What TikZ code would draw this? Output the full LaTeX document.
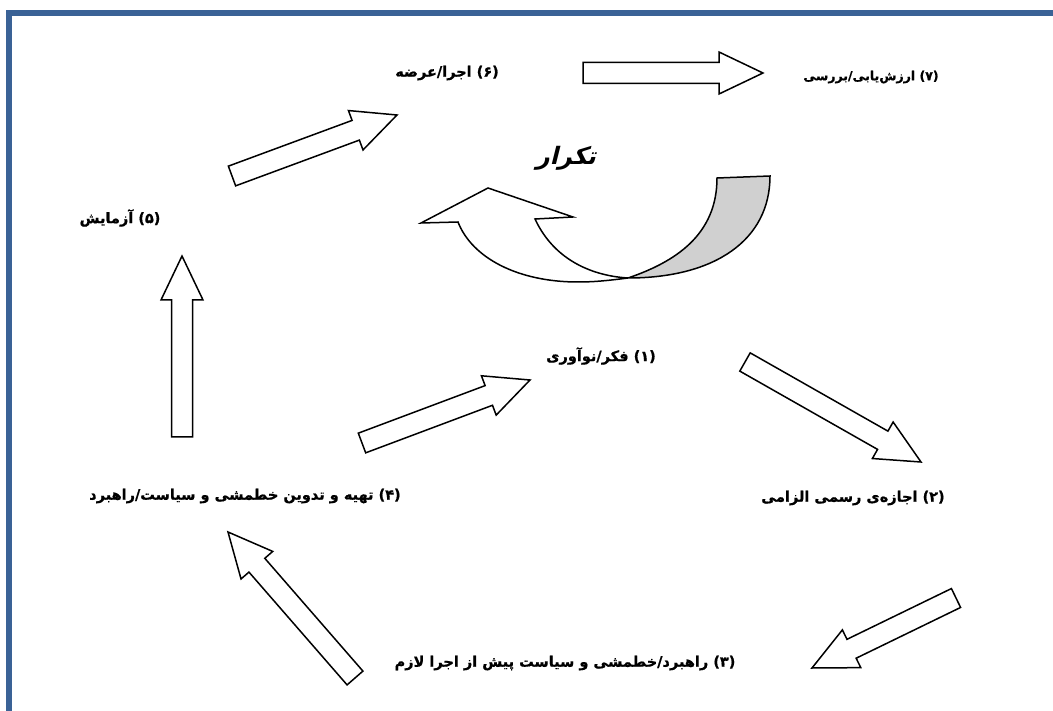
\documentclass[tikz,border=0pt]{standalone}
\usepackage{fontspec}
\usetikzlibrary{calc}
\TeXXeTstate=1
\newfontfamily\fafont[Script=Arabic,BoldFeatures={FakeBold=0.8}]{DejaVu Sans}
\newfontfamily\tkfont[Script=Arabic,UprightFont=* Bold,UprightFeatures={FakeSlant=0.25}]{DejaVu Sans}
\definecolor{frameblue}{RGB}{58,98,150}
\definecolor{backgray}{RGB}{208,208,208}

% outline block arrow from a tail coordinate to a tip coordinate
\newcommand{\blockarrow}[2]{%
  \coordinate (ba) at ($(#2)!44pt!(#1)$);
  \draw[arrowline] ($(#1)!10.5pt!90:(#2)$) -- ($(ba)!10.5pt!90:(#2)$)
    -- ($(ba)!21pt!90:(#2)$) -- (#2) -- ($(ba)!21pt!-90:(#2)$)
    -- ($(ba)!10.5pt!-90:(#2)$) -- ($(#1)!10.5pt!-90:(#2)$) -- cycle;
}

\tikzset{
  step label/.style={font=\fafont\bfseries\fontsize{14.5}{17}\selectfont},
  arrowline/.style={draw=black, fill=white, line width=1.5pt, line join=miter}
}

\begin{document}
\begin{tikzpicture}[x=1pt, y=-1pt]
  \useasboundingbox (0,0) rectangle (1053,711);
  % frame
  \draw[frameblue, line width=6pt] (9,711) -- (9,13) -- (1053,13);

  % steps
  \node[step label] (l1) at (601,356) {\beginR(۱) فکر/نوآوری\endR};
  \node[step label] (l2) at (853,498) {\beginR(۲) اجازه‌ی رسمی الزامی\endR};
  \node[step label] (l3) at (565,663) {\beginR(۳) راهبرد/خطمشی و سیاست پیش از اجرا لازم\endR};
  \node[step label] (l4) at (245,496) {\beginR(۴) تهیه و تدوین خطمشی و سیاست/راهبرد\endR};
  \node[step label] (l5) at (120,218) {\beginR(۵) آزمایش\endR};
  \node[step label] (l6) at (447,73) {\beginR(۶) اجرا/عرضه\endR};
  \node[step label, font=\fafont\bfseries\fontsize{12.5}{15}\selectfont] (l7) at (871,77) {\beginR(۷) ارزش‌یابی/بررسی\endR};
  \node[font=\tkfont\fontsize{24}{28}\selectfont] (tk) at (566,158) {\beginR تکرار\endR};

  % arrow ends
  \coordinate (t12) at (745,362); \coordinate (h12) at (921,462);
  \coordinate (t23) at (956,598); \coordinate (h23) at (812,668);
  \coordinate (t34) at (355,678); \coordinate (h34) at (228,532);
  \coordinate (t41) at (362,443); \coordinate (h41) at (530,380);
  \coordinate (t45) at (182,437); \coordinate (h45) at (182,256);
  \coordinate (t56) at (232,176); \coordinate (h56) at (397,115);
  \coordinate (t67) at (583,73);  \coordinate (h67) at (763,73);

  \blockarrow{t12}{h12}
  \blockarrow{t23}{h23}
  \blockarrow{t34}{h34}
  \blockarrow{t41}{h41}
  \blockarrow{t45}{h45}
  \blockarrow{t56}{h56}
  \blockarrow{t67}{h67}

  % repeat arrow: back side
  \draw[fill=backgray, line width=1.5pt] (717,178) -- (770,176)
    .. controls (770,240) and (715,278) .. (628,278)
    .. controls (675,262) and (717,235) .. (717,178) -- cycle;
  % repeat arrow: front side
  \draw[fill=white, line width=1.5pt] (458,222) -- (421,223) -- (488,188)
    -- (573,217) -- (535,219)
    .. controls (555,262) and (595,276) .. (628,278)
    .. controls (605,281) and (592,282) .. (578,282)
    .. controls (518,282) and (472,258) .. (458,222) -- cycle;
\end{tikzpicture}
\end{document}
